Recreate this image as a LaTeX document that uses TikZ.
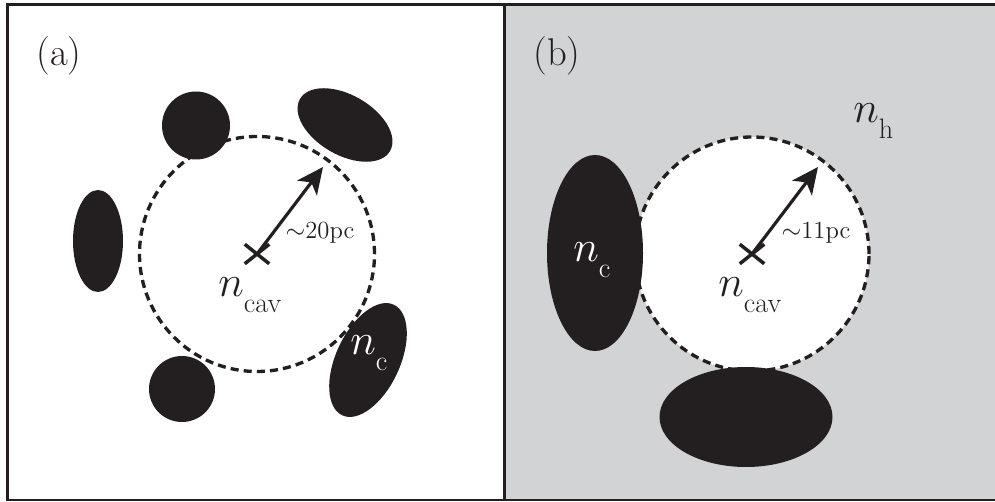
\documentclass[tikz,border=0pt]{standalone}
\usepackage{amsmath,amssymb}
\usepackage{tikz}
\usetikzlibrary{arrows.meta, positioning, shapes.misc}
\usepackage{xcolor}
\definecolor{inkblack}{RGB}{35,31,32}
\definecolor{hotgray}{RGB}{209,211,212}

% density symbol with a lowered subscript
\newcommand{\nsub}[1]{$n$\raisebox{-9pt}{\fontsize{16}{18}\selectfont #1}}

\tikzset{
  blob/.style={fill=inkblack, draw=none},
  cavity/.style={draw=inkblack, line width=1.9pt, dash pattern=on 4.6pt off 2.9pt},
  radarrow/.style={draw=inkblack, line width=1.8pt,
    -{Stealth[length=15pt, width=14pt, inset=4pt]}},
  crossmark/.style={draw=inkblack, cross out, line width=2pt,
    minimum width=0.42cm, minimum height=0.32cm, inner sep=0pt},
  panellabel/.style={font=\fontsize{22}{26}\selectfont, text=inkblack, inner sep=0pt},
  denslabel/.style={font=\fontsize{25}{30}\selectfont, inner sep=0pt, anchor=base west},
  sizelabel/.style={font=\fontsize{14}{16}\selectfont, text=inkblack, inner sep=0pt}
}

\begin{document}
\begin{tikzpicture}
    \useasboundingbox (0,0) rectangle (19.9,10.02);

    % panel (b) background and cavity
    \fill[hotgray] (10.08,0.02) rectangle (19.95,9.926);
    \fill[white] (15.04,4.94) circle (2.34);

    % cavity edges
    \draw[cavity] (5.14,4.94) circle (2.35);
    \draw[cavity] (15.04,4.94) circle (2.34);

    % clouds, panel (a)
    \fill[blob] (3.92,7.51) circle (0.68);
    \fill[blob] (6.9,7.52) ellipse [x radius=1.04, y radius=0.6, rotate=-30];
    \fill[blob] (1.96,5.2) ellipse [x radius=0.5, y radius=1.02];
    \fill[blob] (3.64,2.24) circle (0.66);
    \fill[blob] (7.36,2.82) ellipse [x radius=1.22, y radius=0.64, rotate=65];

    % clouds, panel (b)
    \fill[blob] (11.9,4.96) ellipse [x radius=0.96, y radius=1.96];
    \fill[blob] (14.92,1.68) ellipse [x radius=1.73, y radius=1.0];

    % centres and radii
    \node[crossmark] (ca) at (5.14,4.94) {};
    \node[crossmark] (cb) at (15.04,4.94) {};
    \coordinate (tipa) at (6.46,6.68);
    \coordinate (tipb) at (16.36,6.68);
    \draw[radarrow] (ca.center) -- (tipa);
    \draw[radarrow] (cb.center) -- (tipb);
    \node[sizelabel] (ra) at (6.4,5.36) {$\sim$20pc};
    \node[sizelabel] (rb) at (16.32,5.36) {$\sim$11pc};

    % densities
    \node[denslabel, text=inkblack] (ncava) at (4.36,4.08) {\nsub{cav}};
    \node[denslabel, text=inkblack] (ncavb) at (14.36,4.08) {\nsub{cav}};
    \node[denslabel, text=white] (nca) at (7.0,2.92) {\nsub{c}};
    \node[denslabel, text=white] (ncb) at (11.46,4.78) {\nsub{c}};
    \node[denslabel, text=inkblack] (nh) at (17.06,7.56) {\nsub{h}};

    \node[panellabel] (pa) at (1.18,8.9) {(a)};
    \node[panellabel] (pb) at (11.14,8.9) {(b)};

    % frame
    \draw[inkblack, line width=1.7pt] (19.95,9.926) -- (0.15,9.926) -- (0.15,0.02) -- (19.95,0.02);
    \draw[inkblack, line width=1.7pt] (10.08,9.926) -- (10.08,0.02);
  \end{tikzpicture}
\end{document}
